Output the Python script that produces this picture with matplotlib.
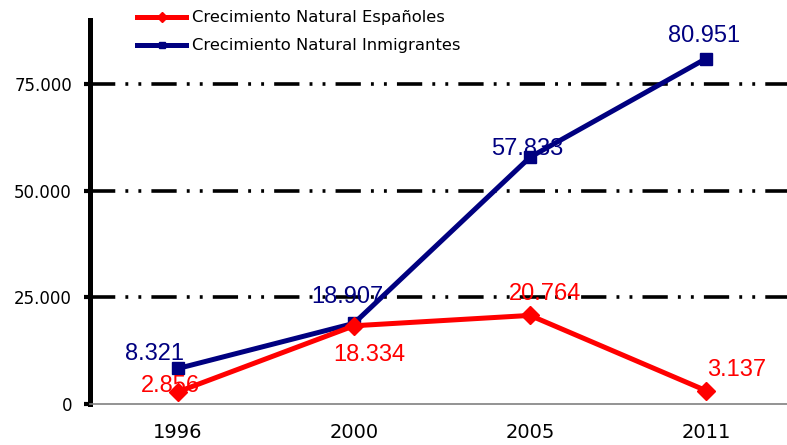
import matplotlib.pyplot as plt

# datos
anios = ['1996', '2000', '2005', '2011']
espanoles = [2856, 18334, 20764, 3137]
inmigrantes = [8321, 18907, 57833, 80951]
etiquetas_y = ['0', '25.000', '50.000', '75.000']
valores_y = [0, 25000, 50000, 75000]


def formato(v):
    return '{:,}'.format(v).replace(',', '.')


rojo = '#FF0000'
azul = '#000080'

fig = plt.figure(figsize=(7.87, 4.45), dpi=100)
ax = fig.add_axes([90 / 787, 41 / 445, 704 / 787, 384 / 445])

x = list(range(len(anios)))

ax.plot(x, espanoles, color=rojo, lw=3.6, marker='D', ms=9,
        label='Crecimiento Natural Españoles', zorder=4)
ax.plot(x, inmigrantes, color=azul, lw=3.6, marker='s', ms=8,
        label='Crecimiento Natural Inmigrantes', zorder=3)

# desplazamientos de etiquetas (px)
desp_esp = [(-8, 6), (15, -29), (15, 21), (31, 21)]
desp_inm = [(-24, 14), (-7, 26), (-3, 8), (-2, 23)]

for i in x:
    ax.annotate(formato(espanoles[i]), (i, espanoles[i]),
                xytext=desp_esp[i], textcoords='offset pixels',
                ha='center', va='center', color=rojo, fontsize=17,
                family='Liberation Sans', zorder=6)
    ax.annotate(formato(inmigrantes[i]), (i, inmigrantes[i]),
                xytext=desp_inm[i], textcoords='offset pixels',
                ha='center', va='center', color=azul, fontsize=17,
                family='Liberation Sans', zorder=6)

for v in valores_y[1:]:
    ax.axhline(v, color='black', lw=2.6,
               dashes=(7.0, 2.8, 0.8, 2.8, 0.8, 2.8), zorder=1)

ax.set_xlim(-0.5, 3.5)
ax.set_ylim(0, 90000)
ax.set_yticks(valores_y)
ax.set_yticklabels(etiquetas_y)
ax.set_xticks(x)
ax.set_xticklabels(anios)

ax.tick_params(axis='y', length=4, width=3, direction='out', labelsize=12, pad=9)
ax.tick_params(axis='x', length=0, labelsize=14, pad=14)

for s in ['top', 'right']:
    ax.spines[s].set_visible(False)
ax.spines['left'].set_linewidth(3.6)
ax.spines['left'].set_color('black')
ax.spines['bottom'].set_linewidth(1.2)
ax.spines['bottom'].set_color('#808080')

fig.legend(loc='upper left', bbox_to_anchor=(128 / 787, 0.997), frameon=False,
           fontsize=11.8, handlelength=3.0, handletextpad=0.35,
           labelspacing=0.8, borderaxespad=0.15, markerscale=0.6)

plt.savefig('out.png', dpi=100)
